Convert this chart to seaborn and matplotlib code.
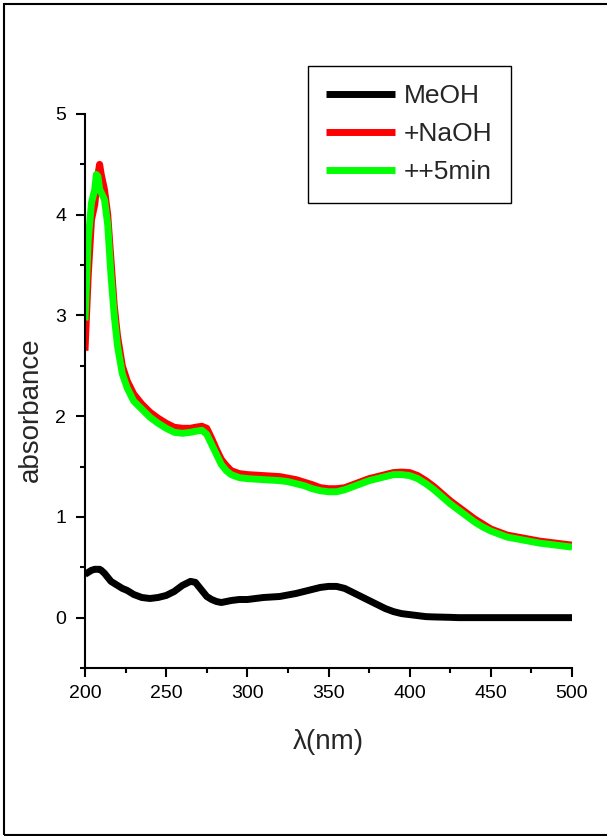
# plot.py - UV-Vis absorbance spectra (MeOH, +NaOH, ++5min)

import numpy as np
import pandas as pd
import seaborn as sns
import matplotlib.pyplot as plt
from matplotlib.patches import Rectangle
from matplotlib.ticker import MultipleLocator

# wavelength grid (nm)
wavelength = [200, 202, 204, 206, 207, 208, 209, 210, 212, 214, 216, 218, 220,
              223, 226, 230, 235, 240, 245, 250, 255, 260, 265, 268, 272, 275,
              278, 281, 284, 287, 290,
              295, 300, 305, 310, 315, 320, 325, 330, 335, 340,
              345, 350, 355, 360, 365, 370, 375, 380, 385, 390,
              395, 400, 405, 410, 415, 420, 425, 430, 435, 440,
              445, 450, 455, 460, 465, 470, 475, 480, 485, 490,
              495, 500]

# absorbance
meoh = [0.43, 0.45, 0.47, 0.48, 0.48, 0.48, 0.48, 0.47, 0.44, 0.40, 0.36, 0.34, 0.32,
        0.29, 0.27, 0.23, 0.20, 0.19, 0.20, 0.22, 0.26, 0.32, 0.36, 0.35, 0.27, 0.21,
        0.18, 0.16, 0.15, 0.16, 0.17,
        0.18, 0.18, 0.19, 0.20, 0.205, 0.21, 0.225, 0.24, 0.26, 0.28,
        0.30, 0.31, 0.31, 0.29, 0.25, 0.21, 0.17, 0.13, 0.09, 0.06,
        0.04, 0.03, 0.02, 0.01, 0.007, 0.005, 0.003, 0.0, 0.0, 0.0,
        0.0, 0.0, 0.0, 0.0, 0.0, 0.0, 0.0, 0.0, 0.0, 0.0,
        0.0, 0.0]

naoh = [2.65, 3.40, 3.95, 4.10, 4.25, 4.40, 4.50, 4.40, 4.25, 4.00, 3.55, 3.10, 2.80,
        2.50, 2.35, 2.22, 2.12, 2.04, 1.98, 1.93, 1.89, 1.88, 1.88, 1.89, 1.90, 1.88,
        1.78, 1.67, 1.57, 1.51, 1.46,
        1.43, 1.42, 1.415, 1.41, 1.405, 1.40, 1.385, 1.37, 1.345, 1.32,
        1.29, 1.28, 1.28, 1.29, 1.32, 1.35, 1.38, 1.40, 1.42, 1.44,
        1.445, 1.44, 1.41, 1.36, 1.30, 1.23, 1.16, 1.10, 1.04, 0.98,
        0.93, 0.88, 0.85, 0.82, 0.805, 0.79, 0.775, 0.76, 0.75, 0.74,
        0.73, 0.72]

naoh_5min = [2.95, 3.75, 4.12, 4.25, 4.40, 4.38, 4.25, 4.22, 4.15, 3.90, 3.40, 3.00, 2.70,
             2.42, 2.28, 2.15, 2.07, 1.99, 1.93, 1.88, 1.84, 1.83, 1.84, 1.85, 1.86, 1.82,
             1.72, 1.62, 1.52, 1.46, 1.42,
             1.39, 1.38, 1.375, 1.37, 1.365, 1.36, 1.35, 1.33, 1.31, 1.28,
             1.26, 1.25, 1.25, 1.27, 1.30, 1.33, 1.36, 1.38, 1.40, 1.42,
             1.42, 1.41, 1.38, 1.33, 1.27, 1.20, 1.13, 1.07, 1.01, 0.95,
             0.90, 0.86, 0.83, 0.80, 0.785, 0.77, 0.755, 0.74, 0.73, 0.72,
             0.71, 0.70]

labels = ['MeOH', '+NaOH', '++5min']
colors = ['#000000', '#ff0000', '#00ff00']

df = pd.DataFrame({
    'wavelength': wavelength * 3,
    'absorbance': meoh + naoh + naoh_5min,
    'sample': [labels[0]] * len(wavelength) + [labels[1]] * len(wavelength)
              + [labels[2]] * len(wavelength),
})

sns.set_style('ticks')
plt.rcParams['font.family'] = ['Liberation Sans', 'DejaVu Sans']

fig = plt.figure(figsize=(6.07, 8.36), dpi=100)
ax = fig.add_axes([85 / 607, 1 - 668 / 836, (572 - 85) / 607, (668 - 114) / 836])

sns.lineplot(data=df, x='wavelength', y='absorbance', hue='sample',
             palette=dict(zip(labels, colors)), hue_order=labels,
             linewidth=5, sort=False, estimator=None, ax=ax,
             solid_joinstyle='round', solid_capstyle='butt')

ax.set_xlim(200, 500)
ax.set_ylim(-0.5, 5)
ax.xaxis.set_major_locator(MultipleLocator(50))
ax.xaxis.set_minor_locator(MultipleLocator(25))
ax.yaxis.set_major_locator(MultipleLocator(1))
ax.yaxis.set_minor_locator(MultipleLocator(0.5))
ax.tick_params(which='major', direction='out', length=6.5, width=1.5,
               labelsize=14, pad=6, color='black', labelcolor='black')
ax.tick_params(axis='y', which='major', pad=7)
ax.tick_params(which='minor', direction='out', length=3.5, width=1.5, color='black')

for side in ['top', 'right']:
    ax.spines[side].set_visible(False)
for side in ['left', 'bottom']:
    ax.spines[side].set_linewidth(1.5)
    ax.spines[side].set_color('black')

ax.set_xlabel('λ(nm)', fontsize=20, labelpad=19)
ax.set_ylabel('absorbance', fontsize=20)
ax.yaxis.set_label_coords(-0.084, 0.466)

# legend box
leg = ax.legend(loc='upper left', bbox_to_anchor=(308 / 607, 1 - 66 / 836),
                bbox_transform=fig.transFigure, borderaxespad=0,
                fontsize=19, handlelength=2.58, handletextpad=0.34,
                labelspacing=0.53, borderpad=0.7, fancybox=False,
                framealpha=1, edgecolor='black', title=None)
leg.get_frame().set_linewidth(1.0)
for line in leg.get_lines():
    line.set_linewidth(5)

# outer frame around the figure
fig.add_artist(Rectangle((4 / 607, 1.5 / 836), 1.0, 1 - 5.5 / 836,
                         transform=fig.transFigure, fill=False,
                         edgecolor='black', linewidth=1.5))

fig.savefig('out.png', dpi=100)
